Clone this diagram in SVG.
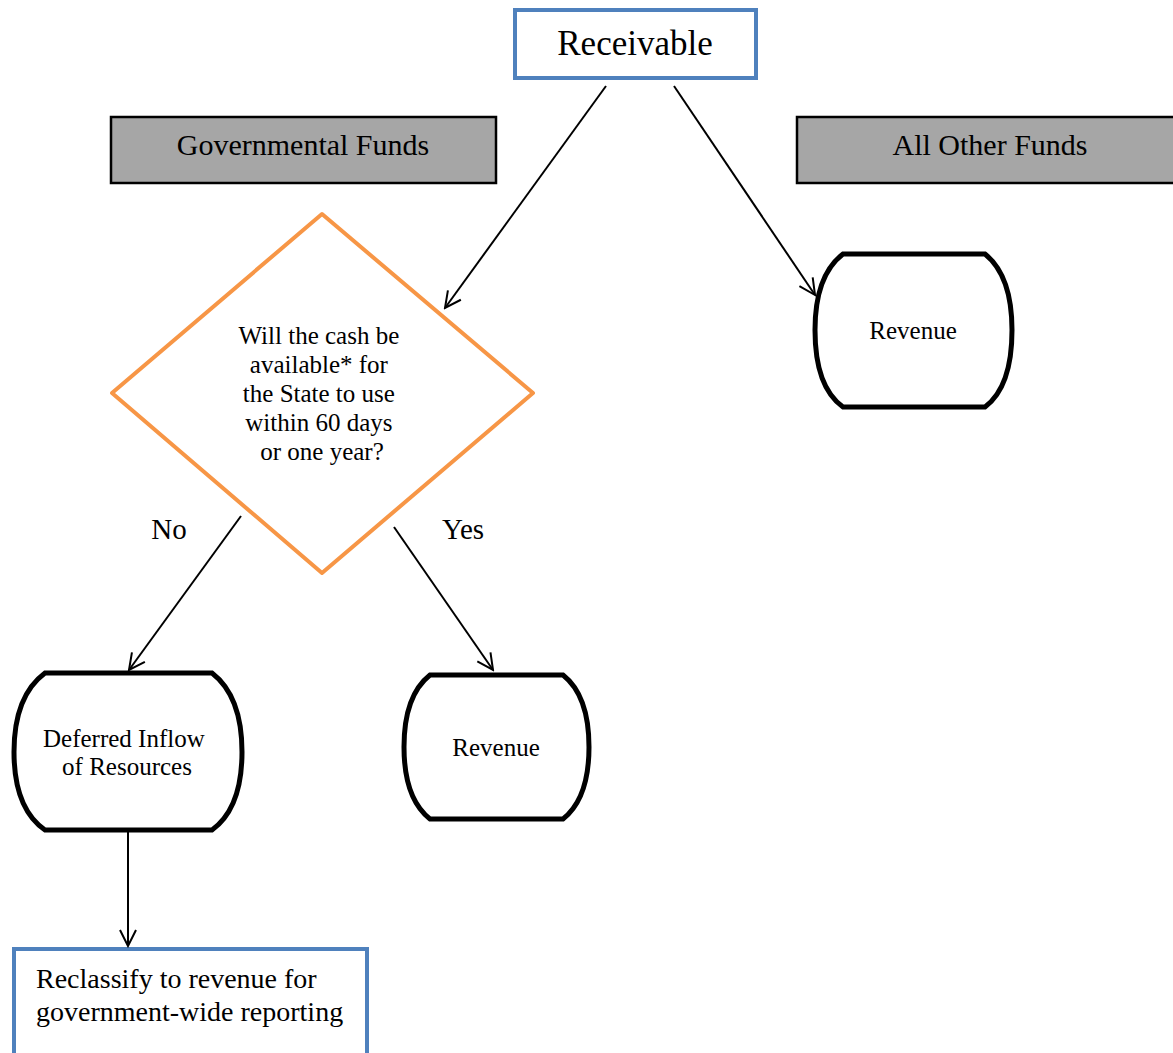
<svg xmlns="http://www.w3.org/2000/svg" width="1173" height="1053" viewBox="0 0 1173 1053">
<defs>
<style>
text{font-family:'Liberation Serif','Times New Roman',serif;fill:#000}
.blue{fill:#fff;stroke:#4F81BD;stroke-width:4}
.gray{fill:#A6A6A6;stroke:#000;stroke-width:2.5}
.term{fill:#fff;stroke:#000;stroke-width:5}
.conn{stroke:#000;stroke-width:2;fill:none}
</style>
<marker id="ah" viewBox="0 0 20 20" refX="18" refY="10" markerWidth="20" markerHeight="20" markerUnits="userSpaceOnUse" orient="auto">
<polyline points="2,2 18,10 2,18" fill="none" stroke="#000" stroke-width="2"/>
</marker>
</defs>
<rect width="1173" height="1053" fill="#fff"/>
<g id="receivable">
<rect class="blue" x="515" y="10" width="241" height="68"/>
<text x="635" y="55" font-size="35" text-anchor="middle">Receivable</text>
</g>
<g id="governmental-funds">
<rect class="gray" x="111" y="117" width="385" height="66"/>
<text x="303" y="155" font-size="30" text-anchor="middle">Governmental Funds</text>
</g>
<g id="all-other-funds">
<rect class="gray" x="797" y="117" width="380" height="66"/>
<text x="990" y="155" font-size="30" text-anchor="middle">All Other Funds</text>
</g>
<g id="decision">
<polygon points="322,214 533,393 322,573 112,393" fill="#fff" stroke="#F79646" stroke-width="4" stroke-linejoin="round"/>
<text font-size="25" text-anchor="middle">
<tspan x="322" y="344">Will the cash be</tspan>
<tspan x="322" y="373">available* for</tspan>
<tspan x="322" y="402">the State to use</tspan>
<tspan x="322" y="431">within 60 days</tspan>
<tspan x="322" y="460">or one year?</tspan>
</text>
</g>
<g id="revenue-other">
<path class="term" d="M843,254 H985 C1005,270 1012,300 1012,330 C1012,362 1005,392 985,407 H843 C822,392 815,362 815,330 C815,300 822,270 843,254 Z"/>
<text x="913" y="339" font-size="25" text-anchor="middle">Revenue</text>
</g>
<g id="deferred-inflow">
<path class="term" d="M45,673 H212 C234,690 242,720 242,752 C242,784 234,814 212,830 H45 C22,814 14,784 14,752 C14,720 22,690 45,673 Z"/>
<text font-size="25" text-anchor="middle">
<tspan x="127" y="747">Deferred Inflow</tspan>
<tspan x="127" y="775">of Resources</tspan>
</text>
</g>
<g id="revenue-gov">
<path class="term" d="M430,675 H563 C582,690 589,718 589,747 C589,777 582,804 563,819 H430 C411,804 404,777 404,747 C404,718 411,690 430,675 Z"/>
<text x="496" y="756" font-size="25" text-anchor="middle">Revenue</text>
</g>
<g id="reclassify">
<rect class="blue" x="14" y="949" width="353" height="108"/>
<text font-size="28">
<tspan x="36" y="988">Reclassify to revenue for</tspan>
<tspan x="36" y="1021">government-wide reporting</tspan>
</text>
</g>
<g id="labels">
<text x="169" y="539" font-size="29" text-anchor="middle">No</text>
<text x="463" y="539" font-size="29" text-anchor="middle">Yes</text>
</g>
<g id="connectors">
<line class="conn" x1="606" y1="86" x2="445" y2="308" marker-end="url(#ah)"/>
<line class="conn" x1="674" y1="86" x2="815" y2="295" marker-end="url(#ah)"/>
<line class="conn" x1="241" y1="516" x2="129" y2="670" marker-end="url(#ah)"/>
<line class="conn" x1="394" y1="527" x2="493" y2="670" marker-end="url(#ah)"/>
<line class="conn" x1="128" y1="832" x2="128" y2="946" marker-end="url(#ah)"/>
</g>
</svg>
